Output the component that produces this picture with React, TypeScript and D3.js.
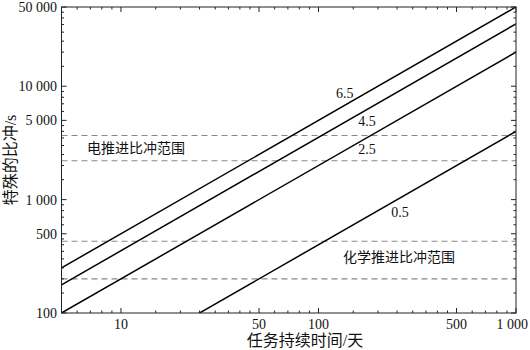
import React from "react";
import * as d3 from "d3";

// ---- data ----
const xDomain = [5, 1000];
const yDomain = [100, 50000];
const xMajor = [10, 50, 100, 500, 1000];
const xMajorLabels = ["10", "50", "100", "500", "1 000"];
const xMinor = [6, 7, 8, 9, 15, 20, 25, 30, 35, 40, 45, 60, 70, 80, 90, 150, 200, 250, 300, 350, 400, 450, 600, 700, 800, 900];
const yMajor = [100, 500, 1000, 5000, 10000, 50000];
const yMajorLabels = ["100", "500", "1 000", "5 000", "10 000", "50 000"];
const yMinor = [150, 200, 250, 300, 350, 400, 450, 600, 700, 800, 900, 1500, 2000, 2500, 3000, 3500, 4000, 4500, 6000, 7000, 8000, 9000, 15000, 20000, 25000, 30000, 35000, 40000, 45000];

const lineDays = [5, 1000];
const seriesNames = ["6.5", "4.5", "2.5", "0.5"];
const series65 = [250, 50000];
const series45 = [177, 35500];
const series25 = [100, 20000];
const series05 = [20, 4000];
const seriesValues = [series65, series45, series25, series05];
const labelDays = [136, 176, 176, 259];
const labelIsp = [8770, 4970, 2810, 780];

const rangeBounds = [200, 430, 2200, 3680];
const rangeNames = ["电推进比冲范围", "化学推进比冲范围"];
const rangeLabelDays = [6.73, 133];
const rangeLabelIsp = [2840, 314];

const xTitle = "任务持续时间/天";
const yTitle = "特殊的比冲/s";

// ---- layout ----
const W = 530, H = 350;
const L = 61.5, R = 516, T = 7, B = 313;
const serif = "'Liberation Serif', 'Noto Sans CJK SC', serif";

export default function App() {
  const x = d3.scaleLog().domain(xDomain).range([L, R]);
  const y = d3.scaleLog().domain(yDomain).range([B, T]);
  const line = d3.line<[number, number]>().x(d => x(d[0])).y(d => y(d[1]));
  const ink = "#222";

  return (
    <svg width={W} height={H} style={{ position: "absolute", left: 0, top: 0, background: "#fff" }}
      fontFamily={serif}>
      <defs>
        <clipPath id="plot"><rect x={L} y={T} width={R - L} height={B - T} /></clipPath>
      </defs>
      {/* dashed range bounds */}
      {rangeBounds.map((v, i) => (
        <line key={"d" + i} x1={L} x2={R} y1={y(v)} y2={y(v)} stroke="#888" strokeWidth={1.1} strokeDasharray="6,4" />
      ))}
      {/* series lines */}
      <g clipPath="url(#plot)">
        {seriesValues.map((vals, i) => (
          <path key={"s" + i} d={line(lineDays.map((t, j) => [t, vals[j]]) as [number, number][]) || ""}
            fill="none" stroke="#000" strokeWidth={1.5} />
        ))}
      </g>
      {/* frame */}
      <rect x={L} y={T} width={R - L} height={B - T} fill="none" stroke={ink} strokeWidth={1} />
      {/* x ticks */}
      {xMajor.map((v, i) => {
        const last = i === xMajor.length - 1;
        return (
          <g key={"xm" + i}>
            <line x1={x(v)} x2={x(v)} y1={B} y2={B - 5} stroke={ink} />
            <line x1={x(v)} x2={x(v)} y1={T} y2={T + 5} stroke={ink} />
            <text x={last ? x(v) + 12 : x(v)} y={329} fontSize={14} textAnchor={last ? "end" : "middle"} fill="#111">{xMajorLabels[i]}</text>
          </g>
        );
      })}
      {xMinor.map((v, i) => (
        <g key={"xn" + i}>
          <line x1={x(v)} x2={x(v)} y1={B} y2={B - 2.5} stroke={ink} />
          <line x1={x(v)} x2={x(v)} y1={T} y2={T + 2.5} stroke={ink} />
        </g>
      ))}
      {/* y ticks */}
      {yMajor.map((v, i) => (
        <g key={"ym" + i}>
          <line x1={L} x2={L + 5} y1={y(v)} y2={y(v)} stroke={ink} />
          <line x1={R} x2={R - 5} y1={y(v)} y2={y(v)} stroke={ink} />
          <text x={57} y={y(v)} dy="0.35em" fontSize={14} textAnchor="end" fill="#111">{yMajorLabels[i]}</text>
        </g>
      ))}
      {yMinor.map((v, i) => (
        <g key={"yn" + i}>
          <line x1={L} x2={L + 2.5} y1={y(v)} y2={y(v)} stroke={ink} />
          <line x1={R} x2={R - 2.5} y1={y(v)} y2={y(v)} stroke={ink} />
        </g>
      ))}
      {/* series labels */}
      {seriesNames.map((n, i) => (
        <text key={"l" + i} x={x(labelDays[i])} y={y(labelIsp[i])} dy="0.35em" fontSize={14} textAnchor="middle" fill="#111">{n}</text>
      ))}
      {/* range labels */}
      {rangeNames.map((n, i) => (
        <text key={"r" + i} x={x(rangeLabelDays[i])} y={y(rangeLabelIsp[i])} dy="0.35em" fontSize={14} fill="#111">{n}</text>
      ))}
      {/* axis titles */}
      <text x={305} y={346} fontSize={16} textAnchor="middle" fill="#111">{xTitle}</text>
      <text transform={`translate(16,${(T + B) / 2}) rotate(-90)`} fontSize={16} textAnchor="middle" fill="#111">{yTitle}</text>
    </svg>
  );
}
